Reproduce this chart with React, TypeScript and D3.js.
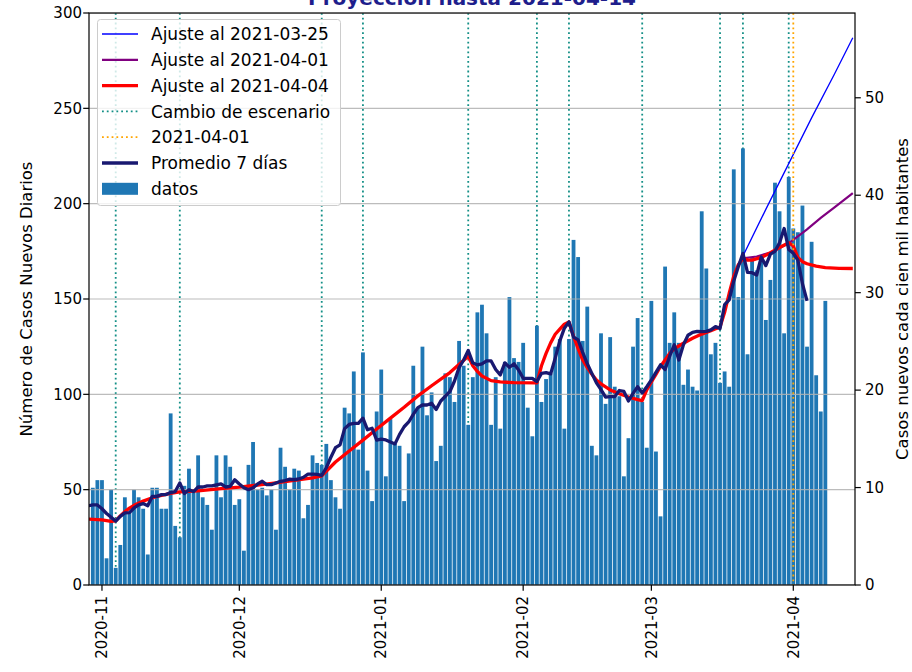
import React from 'react';
import * as d3 from 'd3';

// casos diarios, uno por día desde inicioDatos
const inicioDatos = '2020-10-30';
const datos = [
  51, 55,
  // noviembre
  55, 14, 50, 9, 21, 46, 38, 50, 46, 40, 16, 51, 51, 40, 40, 90, 31, 25, 52, 61,
  50, 68, 46, 42, 29, 68, 46, 68, 62, 42,
  // diciembre
  45, 18, 63, 75, 50, 51, 47, 50, 29, 72, 62, 50, 61, 60, 35, 42, 68, 64, 63, 74,
  55, 46, 40, 93, 90, 112, 71, 122, 60, 44, 91,
  // enero
  113, 57, 87, 74, 73, 44, 69, 115, 93, 125, 89, 101, 65, 73, 111, 109, 96, 128, 115, 84,
  109, 143, 147, 132, 84, 109, 82, 117, 151, 119, 117,
  // febrero
  127, 93, 78, 136, 96, 108, 111, 125, 129, 82, 129, 181, 172, 128, 146, 73, 68, 132, 95, 130,
  104, 99, 57, 77, 125, 140, 96, 72,
  // marzo
  149, 70, 36, 167, 127, 143, 127, 105, 113, 104, 102, 196, 166, 121, 127, 106, 112, 104, 218, 151,
  229, 121, 172, 165, 172, 139, 160, 211, 196, 132, 214,
  // abril
  187, 185, 199, 125, 180, 110, 91, 149,
];

const inicioPromedio = '2020-10-29';
const promedio7 = [
  41.6, 42, 42,
  40, 37.5, 35.5, 33.5, 36, 37.8, 38, 40.4, 42, 42.7, 41.6, 46.5, 46.5, 47.4, 47.4, 48.5, 49, 53.5,
  48, 50, 49, 51.4, 51.4, 52, 52, 52.5, 53, 51.4, 51.7, 55.2,
  53, 51, 50, 51, 53, 54.4, 52.6, 52.6, 53.5, 54.4, 54.8, 55.5, 55.2, 55.6, 56.5, 58.2, 58.2, 58, 57.5,
  61.5, 67, 72, 73.5, 82, 84.2, 84.8, 84.8, 87.5, 81.4, 82.2, 76,
  76.5, 76.1, 75, 74, 79, 83, 85.5, 89.5, 93, 94.4, 94.4, 95.3, 92.1, 96.5, 99, 101.5, 107, 114, 118, 123,
  116.5, 115.4, 116, 117.5, 117.5, 113, 110.2, 116.5, 114.2, 116, 112.8,
  108.4, 108.4, 108.4, 106.7, 111, 111.4, 110.7, 119, 128, 134.7, 138, 130, 128.6, 122, 116, 111, 106,
  102.5, 98.5, 98.8, 98.8, 102, 101.5, 96.5, 100.5, 104, 100.7, 104,
  107.5, 111.5, 115.5, 113, 120, 126, 118, 126, 131, 132.5, 133, 132.9, 133, 133.8, 135.5, 134.5, 147,
  149.5, 159.5, 167, 173.9, 164, 163.8, 162.6, 172, 167.5, 173.5, 175, 179.5, 187, 176,
  174, 170.4, 158, 149,
];

const ajuste0404: [string, number][] = [
  ['2020-10-29', 34.6], ['2020-11-01', 34.2], ['2020-11-03', 33.4], ['2020-11-04', 33.6],
  ['2020-11-05', 36.2], ['2020-11-06', 38.5], ['2020-11-07', 40.3], ['2020-11-08', 41.8],
  ['2020-11-10', 44], ['2020-11-12', 45.8], ['2020-11-14', 47], ['2020-11-16', 48],
  ['2020-11-18', 48.8], ['2020-11-22', 49.4], ['2020-11-27', 50.5], ['2020-12-01', 51.3],
  ['2020-12-05', 52.4], ['2020-12-09', 53.6], ['2020-12-13', 54.9], ['2020-12-17', 56.2],
  ['2020-12-19', 57.2], ['2020-12-22', 64.5], ['2020-12-25', 70.3], ['2020-12-28', 76],
  ['2020-12-31', 81.8], ['2021-01-03', 87.5], ['2021-01-06', 93.2], ['2021-01-09', 99.2],
  ['2021-01-12', 104.5], ['2021-01-16', 111.4], ['2021-01-20', 120], ['2021-01-21', 115],
  ['2021-01-22', 112], ['2021-01-23', 109.6], ['2021-01-25', 107.2], ['2021-01-27', 106.5],
  ['2021-01-30', 106.1], ['2021-02-04', 106], ['2021-02-05', 115], ['2021-02-06', 121.5],
  ['2021-02-07', 127], ['2021-02-08', 131.5], ['2021-02-09', 134.2], ['2021-02-10', 136.8],
  ['2021-02-11', 138], ['2021-02-12', 130.4], ['2021-02-13', 124], ['2021-02-14', 118],
  ['2021-02-15', 114], ['2021-02-16', 110.5], ['2021-02-17', 107.5], ['2021-02-18', 105.5],
  ['2021-02-20', 102.3], ['2021-02-22', 100.3], ['2021-02-24', 98.6], ['2021-02-26', 97.2],
  ['2021-02-27', 96.7], ['2021-02-28', 102.3], ['2021-03-01', 106.5], ['2021-03-02', 110.5],
  ['2021-03-03', 114.6], ['2021-03-04', 118], ['2021-03-05', 121.5], ['2021-03-06', 124],
  ['2021-03-08', 126.8], ['2021-03-10', 129.4], ['2021-03-12', 131.6], ['2021-03-14', 133.4],
  ['2021-03-16', 135.3], ['2021-03-17', 143], ['2021-03-18', 153], ['2021-03-19', 162],
  ['2021-03-20', 168], ['2021-03-21', 171.3], ['2021-03-22', 170.4], ['2021-03-23', 170.4],
  ['2021-03-25', 171.8], ['2021-03-27', 174.3], ['2021-03-29', 177], ['2021-03-31', 179.5],
  ['2021-04-01', 177.8], ['2021-04-02', 171.8], ['2021-04-03', 169.6], ['2021-04-04', 168.5],
  ['2021-04-06', 167.2], ['2021-04-08', 166.5], ['2021-04-11', 166.1], ['2021-04-14', 166],
];

const ajuste0325: [string, number][] = [
  ['2021-03-21', 172.5], ['2021-03-26', 197], ['2021-03-31', 221],
  ['2021-04-05', 245], ['2021-04-10', 268], ['2021-04-14', 287],
];

const ajuste0401: [string, number][] = [
  ['2021-03-21', 171.3], ['2021-03-24', 172.3], ['2021-03-27', 174.3], ['2021-03-31', 179.2],
  ['2021-04-01', 181], ['2021-04-04', 186.5], ['2021-04-07', 192.5], ['2021-04-10', 198],
  ['2021-04-14', 205.5],
];

const cambiosEscenario = [
  '2020-11-04', '2020-11-18', '2020-12-19', '2020-12-28', '2021-01-20', '2021-02-04',
  '2021-02-11', '2021-02-27', '2021-03-16', '2021-03-21', '2021-03-31',
];
const fechaCorte = '2021-04-01';

const mesesTicks = ['2020-11-01', '2020-12-01', '2021-01-01', '2021-02-01', '2021-03-01', '2021-04-01'];
const casosTicks = [0, 50, 100, 150, 200, 250, 300];
const tasaTicks = [0, 10, 20, 30, 40, 50];
const xLimites = ['2020-10-29T04:00', '2021-04-14T11:30'];

const parse = d3.timeParse('%Y-%m-%d');
const parseHora = d3.timeParse('%Y-%m-%dT%H:%M');
const fmtMes = d3.timeFormat('%Y-%m');

const W = 912;
const H = 672;
const left = 89;
const right = 855;
const top = 13;
const bottom = 585;
const font = 'DejaVu Sans, sans-serif';

const legendItems = [
  { label: 'Ajuste al 2021-03-25', color: 'blue', width: 1.3, dash: '' , kind: 'line' },
  { label: 'Ajuste al 2021-04-01', color: 'purple', width: 2.2, dash: '', kind: 'line' },
  { label: 'Ajuste al 2021-04-04', color: 'red', width: 3.3, dash: '', kind: 'line' },
  { label: 'Cambio de escenario', color: '#138f86', width: 1.8, dash: '1.8 3', kind: 'line' },
  { label: '2021-04-01', color: 'orange', width: 1.8, dash: '1.8 3', kind: 'line' },
  { label: 'Promedio 7 días', color: '#191970', width: 3.3, dash: '', kind: 'line' },
  { label: 'datos', color: '#1f77b4', width: 0, dash: '', kind: 'patch' },
];

export default function App() {
  const x = d3.scaleTime()
    .domain(xLimites.map(s => parseHora(s) as Date))
    .range([left, right]);
  const y = d3.scaleLinear().domain([0, 300]).range([bottom, top]);
  const y2 = d3.scaleLinear().domain([0, 58.7]).range([bottom, top]);

  const d0 = parse(inicioDatos) as Date;
  const barW = x(d3.timeHour.offset(d0, 20.4)) - x(d0);
  const bars = datos.map((v, i) => ({ date: d3.timeDay.offset(d0, i), v }));

  const p0 = parse(inicioPromedio) as Date;
  const prom: [Date, number][] = promedio7.map((v, i) => [d3.timeDay.offset(p0, i), v]);

  const toPts = (arr: [string, number][]) =>
    arr.map(([d, v]) => [parse(d) as Date, v] as [Date, number]);

  const line = d3.line<[Date, number]>()
    .x(d => x(d[0]))
    .y(d => y(d[1]));

  const corte = x(parse(fechaCorte) as Date);

  const rowY = (i: number) => 34 + i * 25.8;

  return (
    <svg width={W} height={H} style={{ position: 'absolute', left: 0, top: 0, background: '#fff' }}
      fontFamily={font}>
      <defs>
        <clipPath id="plot">
          <rect x={left} y={top} width={right - left} height={bottom - top} />
        </clipPath>
      </defs>
      <rect x={0} y={0} width={W} height={H} fill="#fff" />

      <text x={(left + right) / 2} y={5} textAnchor="middle" fontSize={20} fontWeight="bold"
        fill="#1e1e8c">Proyección hasta 2021-04-14</text>

      <g clipPath="url(#plot)">
        {cambiosEscenario.map(d => (
          <line key={d} x1={x(parse(d) as Date)} x2={x(parse(d) as Date)} y1={top} y2={bottom}
            stroke="#138f86" strokeWidth={1.8} strokeDasharray="1.8 3" />
        ))}

        {bars.map(b => (
          <rect key={+b.date} x={x(b.date) - barW / 2} y={y(b.v)} width={barW}
            height={bottom - y(b.v)} fill="#1f77b4" />
        ))}

        {casosTicks.map(t => (
          <line key={t} x1={left} x2={right} y1={y(t)} y2={y(t)} stroke="#b0b0b0"
            strokeOpacity={0.85} strokeWidth={1.1} />
        ))}

        <path d={line(toPts(ajuste0325)) || ''} fill="none" stroke="blue" strokeWidth={1.3} />
        <path d={line(toPts(ajuste0401)) || ''} fill="none" stroke="purple" strokeWidth={2.2} />
        <path d={line(toPts(ajuste0404)) || ''} fill="none" stroke="red" strokeWidth={3.3}
          strokeLinejoin="round" />
        <line x1={corte} x2={corte} y1={top} y2={bottom} stroke="orange" strokeWidth={1.8}
          strokeDasharray="1.8 3" />
        <path d={line(prom) || ''} fill="none" stroke="#191970" strokeWidth={3.3}
          strokeLinejoin="round" />
      </g>

      {/* ejes */}
      <rect x={left} y={top} width={right - left} height={bottom - top} fill="none"
        stroke="#000" strokeWidth={1.2} />

      {casosTicks.map(t => (
        <g key={t} transform={`translate(${left},${y(t)})`}>
          <line x1={-5.8} x2={0} stroke="#000" strokeWidth={1.2} />
          <text x={-7} dy="0.35em" textAnchor="end" fontSize={15}>{t}</text>
        </g>
      ))}

      {tasaTicks.map(t => (
        <g key={t} transform={`translate(${right},${y2(t)})`}>
          <line x1={0} x2={5.8} stroke="#000" strokeWidth={1.2} />
          <text x={10} dy="0.35em" textAnchor="start" fontSize={15}>{t}</text>
        </g>
      ))}

      {mesesTicks.map(m => {
        const d = parse(m) as Date;
        return (
          <g key={m} transform={`translate(${x(d)},${bottom})`}>
            <line y1={0} y2={5.8} stroke="#000" strokeWidth={1.2} />
            <text transform="translate(0,11) rotate(-90)" dy="0.35em" textAnchor="end"
              fontSize={15}>{fmtMes(d)}</text>
          </g>
        );
      })}

      <text transform={`translate(32,${(top + bottom) / 2}) rotate(-90)`} textAnchor="middle"
        fontSize={16.5}>Número de Casos Nuevos Diarios</text>
      <text transform={`translate(908,${(top + bottom) / 2}) rotate(-90)`} textAnchor="middle"
        fontSize={16.5}>Casos nuevos cada cien mil habitantes</text>

      {/* leyenda */}
      <rect x={97.5} y={19.5} width={243} height={186} rx={3} fill="#fff" fillOpacity={0.8}
        stroke="#cccccc" strokeWidth={1} />
      {legendItems.map((it, i) => (
        <g key={it.label}>
          {it.kind === 'patch' ? (
            <rect x={102} y={rowY(i) - 6} width={36} height={12} fill={it.color} />
          ) : (
            <line x1={102} x2={138} y1={rowY(i)} y2={rowY(i)} stroke={it.color}
              strokeWidth={it.width} strokeDasharray={it.dash || undefined} />
          )}
          <text x={151} y={rowY(i)} dy="0.36em" fontSize={17}>{it.label}</text>
        </g>
      ))}
    </svg>
  );
}
